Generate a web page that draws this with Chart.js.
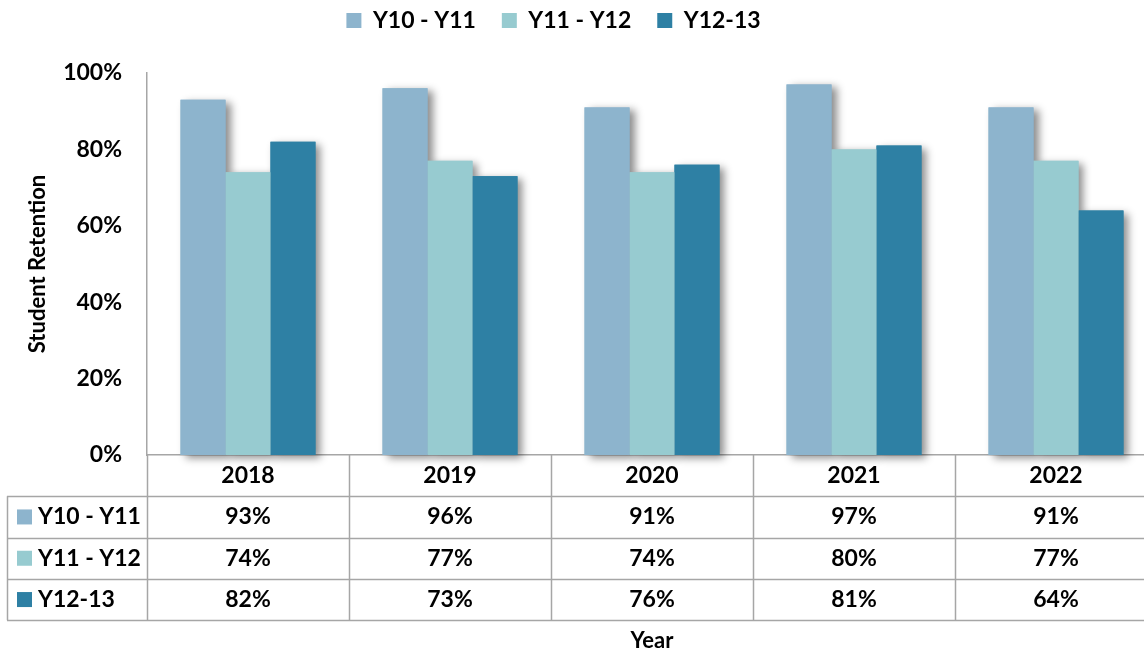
<!DOCTYPE html>
<html>
<head>
<meta charset="utf-8">
<script src="https://cdn.jsdelivr.net/npm/chart.js@4.4.1/dist/chart.umd.min.js"></script>
<style>
    html, body { margin: 0; padding: 0; background: #fff; overflow: hidden; }
    #wrap { width: 1160px; height: 655px; }
</style>
</head>
<body>
<div id="wrap"><canvas id="retentionChart" width="1160" height="655"></canvas></div>
<script>
// Chart data
const years = ["2018", "2019", "2020", "2021", "2022"];
const seriesNames = ["Y10 - Y11", "Y11 - Y12", "Y12-13"];
const y10to11 = [93, 96, 91, 97, 91];
const y11to12 = [74, 77, 74, 80, 77];
const y12to13 = [82, 73, 76, 81, 64];
const yTicks = [0, 20, 40, 60, 80, 100];

const colors = ["#8db4cd", "#97cbd0", "#2e80a4"];
const FONT = "Lato, 'Open Sans', sans-serif";
const LINE = "#a6a6a6";

// Draws a soft shadow behind every bar, before the bars themselves
const barShadow = {
    id: "barShadow",
    beforeDatasetsDraw(chart) {
        const ctx = chart.ctx;
        ctx.save();
        ctx.shadowColor = "rgba(0,0,0,0.45)";
        ctx.shadowBlur = 8;
        ctx.shadowOffsetX = 5;
        ctx.shadowOffsetY = 3;
        chart.data.datasets.forEach((ds, i) => {
            chart.getDatasetMeta(i).data.forEach(bar => {
                const w = bar.width;
                ctx.fillStyle = ds.backgroundColor;
                ctx.fillRect(bar.x - w / 2, bar.y, w, bar.base - bar.y);
            });
        });
        ctx.restore();
    }
};

// Nudge the legend to where the original sits
const legendPlace = {
    id: "legendPlace",
    afterLayout(chart) {
        chart.legend.top -= 31;
        chart.legend.bottom -= 31;
        chart.legend.right -= 50;
    }
};

// Data table under the x axis
const dataTable = {
    id: "dataTable",
    afterDraw(chart) {
        const ctx = chart.ctx;
        const x = chart.scales.x;
        const top = chart.chartArea.bottom;
        const rowH = 41.3;
        const catW = x.width / years.length;
        const tableLeft = 7;
        const right = x.right;
        const rows = [y10to11, y11to12, y12to13];

        ctx.save();
        ctx.strokeStyle = LINE;
        ctx.lineWidth = 1.5;
        ctx.beginPath();
        for (let r = 1; r <= 4; r++) {
            const y = Math.round(top + rowH * r) + 0.5;
            ctx.moveTo(tableLeft, y);
            ctx.lineTo(right, y);
        }
        for (let c = 0; c <= years.length; c++) {
            const xx = Math.round(x.left + catW * c) + 0.5;
            ctx.moveTo(xx, top);
            ctx.lineTo(xx, top + rowH * 4);
        }
        ctx.moveTo(tableLeft + 0.5, top + rowH);
        ctx.lineTo(tableLeft + 0.5, top + rowH * 4);
        ctx.stroke();

        ctx.fillStyle = "#000";
        ctx.font = "bold 23px " + FONT;
        ctx.textBaseline = "middle";
        ctx.textAlign = "center";
        years.forEach((yr, i) => {
            ctx.fillText(yr, x.getPixelForValue(i), top + rowH / 2);
        });
        rows.forEach((vals, r) => {
            const cy = top + rowH * (r + 1.5);
            vals.forEach((v, i) => {
                ctx.fillText(v + "%", x.getPixelForValue(i), cy);
            });
        });
        ctx.textAlign = "left";
        seriesNames.forEach((name, r) => {
            const cy = top + rowH * (r + 1.5);
            ctx.fillStyle = colors[r];
            ctx.fillRect(17, cy - 7.5, 15, 15);
            ctx.fillStyle = "#000";
            ctx.fillText(name, 38, cy);
        });
        ctx.restore();
    }
};

const ctx = document.getElementById("retentionChart").getContext("2d");
const chart = new Chart(ctx, {
    type: "bar",
    data: {
        labels: years,
        datasets: [
            { label: seriesNames[0], data: y10to11, backgroundColor: colors[0] },
            { label: seriesNames[1], data: y11to12, backgroundColor: colors[1] },
            { label: seriesNames[2], data: y12to13, backgroundColor: colors[2] }
        ]
    },
    options: {
        responsive: false,
        animation: false,
        layout: { padding: { top: 14, right: 3, left: 0, bottom: 0 } },
        datasets: {
            bar: { barPercentage: 1, categoryPercentage: 0.668, borderWidth: 0 }
        },
        plugins: {
            tooltip: { enabled: false },
            legend: {
                position: "top",
                maxHeight: 73,
                labels: {
                    boxWidth: 15,
                    boxHeight: 15,
                    padding: 26,
                    color: "#000",
                    font: { family: FONT, size: 23, weight: "bold" }
                }
            }
        },
        scales: {
            x: {
                grid: { display: false },
                border: { display: true, color: LINE, width: 1.5 },
                ticks: { display: false },
                title: {
                    display: true,
                    text: "Year",
                    color: "#000",
                    padding: { top: 0, bottom: 1 },
                    font: { family: FONT, size: 22, weight: "bold" }
                },
                afterFit(s) {
                    s.height = 200;
                    s.paddingLeft = 0;
                    s.paddingRight = 0;
                }
            },
            y: {
                min: 0,
                max: 100,
                grid: { display: false },
                border: { display: true, color: LINE, width: 1.5 },
                afterBuildTicks(s) {
                    s.ticks = yTicks.map(v => ({ value: v }));
                },
                ticks: {
                    padding: 17,
                    color: "#000",
                    font: { family: FONT, size: 23, weight: "bold" },
                    callback: v => v + "%"
                },
                title: {
                    display: true,
                    text: "Student Retention",
                    color: "#000",
                    padding: { top: 25, bottom: 0 },
                    font: { family: FONT, size: 22, weight: "bold" }
                },
                afterFit(s) {
                    s.width = 147;
                    s.paddingTop = 0;
                    s.paddingBottom = 0;
                }
            }
        }
    },
    plugins: [barShadow, legendPlace, dataTable]
});
</script>
</body>
</html>
